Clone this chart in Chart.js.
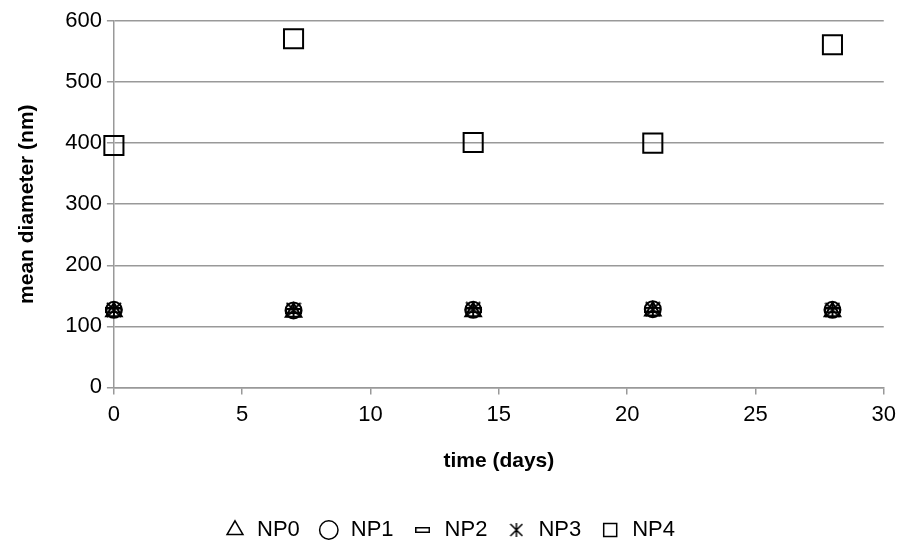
<!DOCTYPE html>
<html>
<head>
<meta charset="utf-8">
<script src="https://cdn.jsdelivr.net/npm/chart.js@4/dist/chart.umd.min.js"></script>
<style>
  html, body { margin: 0; padding: 0; background: #fff; }
  #wrap { width: 903px; height: 544px; }
</style>
</head>
<body>
<div id="wrap"><canvas id="meanDiameter"></canvas></div>
<script>
// Data
var days = [0, 7, 14, 21, 28]
var np0 = [124, 123, 124, 125, 124]
var np1 = [127, 126, 127, 128, 127]
var np2 = [126, 125, 126, 127, 126]
var np3 = [127, 127, 128, 128, 127]
var np4 = [396, 571, 401, 400, 561]
var names = ['NP0', 'NP1', 'NP2', 'NP3', 'NP4']
var xTicks = [0, 5, 10, 15, 20, 25, 30]
var yTicks = [0, 100, 200, 300, 400, 500, 600]

// custom markers for dash and asterisk
function dashMarker(w, h, lw) {
    var c = document.createElement('canvas')
    c.width = w; c.height = h
    var g = c.getContext('2d')
    g.strokeStyle = '#000'
    g.lineWidth = lw
    g.strokeRect(lw / 2, lw / 2, w - lw, h - lw)
    return c
}
function starMarker(s, lw) {
    var c = document.createElement('canvas')
    c.width = s; c.height = s
    var g = c.getContext('2d')
    g.strokeStyle = '#000'
    g.lineWidth = lw
    g.beginPath()
    g.moveTo(1, 1); g.lineTo(s - 1, s - 1)
    g.moveTo(s - 1, 1); g.lineTo(1, s - 1)
    g.moveTo(s / 2, 0); g.lineTo(s / 2, s)
    g.stroke()
    return c
}

function pts(ys) {
    return days.map(function (d, i) { return { x: d, y: ys[i] } })
}

var legendIcons = [
    'triangle', 'circle', dashMarker(15, 6, 1.5), starMarker(14, 1.5), 'rect'
]

Chart.defaults.font.family = '"Liberation Sans", Arial, sans-serif'
Chart.defaults.color = '#000'

var ctx = document.getElementById('meanDiameter').getContext('2d')
var myChart = new Chart(ctx, {
    type: 'scatter',
    data: {
        datasets: [{
            label: names[0],
            data: pts(np0),
            pointStyle: 'triangle',
            pointRadius: 9,
            borderColor: '#000',
            backgroundColor: 'transparent',
            pointBorderWidth: 2,
            clip: false
        }, {
            label: names[1],
            data: pts(np1),
            pointStyle: 'circle',
            pointRadius: 8,
            borderColor: '#000',
            backgroundColor: 'transparent',
            pointBorderWidth: 2,
            clip: false
        }, {
            label: names[2],
            data: pts(np2),
            pointStyle: dashMarker(17, 6, 2),
            borderColor: '#000',
            backgroundColor: 'transparent',
            clip: false
        }, {
            label: names[3],
            data: pts(np3),
            pointStyle: starMarker(16, 2),
            borderColor: '#000',
            backgroundColor: 'transparent',
            clip: false
        }, {
            label: names[4],
            data: pts(np4),
            pointStyle: 'rect',
            pointRadius: 13.5,
            borderColor: '#000',
            backgroundColor: 'transparent',
            pointBorderWidth: 2,
            clip: false
        }]
    },
    options: {
        responsive: true,
        maintainAspectRatio: false,
        animation: false,
        layout: { padding: { left: 15, right: 19, top: 21, bottom: -7 } },
        plugins: {
            tooltip: { enabled: false },
            legend: {
                position: 'bottom',
                labels: {
                    usePointStyle: true,
                    boxWidth: 22,
                    boxHeight: 13,
                    padding: 18,
                    font: { size: 22 },
                    generateLabels: function (chart) {
                        var items = Chart.defaults.plugins.legend.labels.generateLabels(chart)
                        items.forEach(function (it, i) {
                            it.pointStyle = legendIcons[i]
                            it.lineWidth = 1.5
                            it.fillStyle = 'transparent'
                        })
                        return items
                    }
                }
            }
        },
        scales: {
            x: {
                type: 'linear',
                min: 0,
                max: 30,
                afterBuildTicks: function (axis) {
                    axis.ticks = xTicks.map(function (v) { return { value: v } })
                },
                grid: { drawOnChartArea: false, color: '#999', tickLength: 7, lineWidth: 1.5 },
                border: { color: '#999', width: 1.5 },
                ticks: { font: { size: 22 }, padding: 7 },
                title: {
                    display: true,
                    text: 'time (days)',
                    font: { size: 21, weight: 'bold' },
                    padding: { top: 14, bottom: 27 }
                }
            },
            y: {
                min: 0,
                max: 600,
                afterBuildTicks: function (axis) {
                    axis.ticks = yTicks.map(function (v) { return { value: v } })
                },
                grid: { color: '#999', tickLength: 7, lineWidth: 1.5 },
                border: { color: '#999', width: 1.5 },
                ticks: { font: { size: 22 }, padding: 5 },
                title: {
                    display: true,
                    text: 'mean diameter (nm)',
                    font: { size: 21, weight: 'bold' },
                    padding: { top: 0, bottom: 20 }
                }
            }
        }
    }
})
</script>
</body>
</html>
